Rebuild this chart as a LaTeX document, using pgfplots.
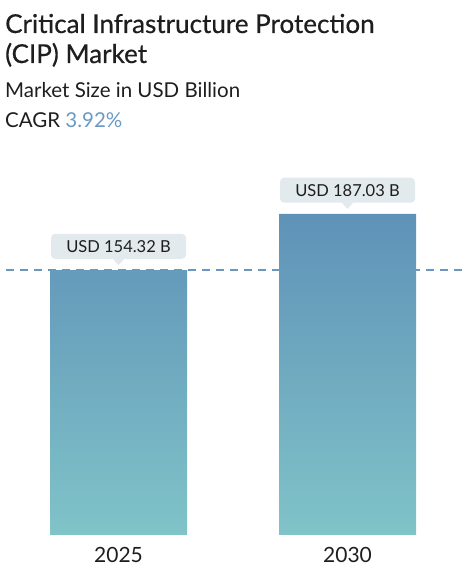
\documentclass[border=0pt]{standalone}
\usepackage{pgfplots}
\pgfplotsset{compat=1.18}
\usepackage{fontspec}
\setmainfont{Lato}
\definecolor{bartop}{HTML}{5F92B8}
\definecolor{barbot}{HTML}{80C3C8}
\definecolor{dashcol}{HTML}{6A97C2}
\definecolor{boxcol}{HTML}{E2EAED}
\definecolor{txt}{HTML}{1E1E1E}
\definecolor{cagr}{HTML}{6A9AC4}
\begin{document}
\begin{tikzpicture}[x=1pt,y=1pt]
\path[use as bounding box] (0,0) rectangle (468,576);
% titles
\node[anchor=base west, inner sep=0, text=txt, font=\fontsize{26}{30}\selectfont\addfontfeature{FakeBold=0.5}] at (5,543) {Critical Infrastructure Protection};
\node[anchor=base west, inner sep=0, text=txt, font=\fontsize{26}{30}\selectfont\addfontfeature{FakeBold=0.5}] at (5,513) {(CIP) Market};
\node[anchor=base west, inner sep=0, text=txt, font=\fontsize{20.5}{24}\selectfont] at (5,478) {Market Size in USD Billion};
\node[anchor=base west, inner sep=0, text=txt, font=\fontsize{20.5}{24}\selectfont] at (5,448) {CAGR \textcolor{cagr}{3.92\%}};
\begin{axis}[
    at={(4pt,41pt)}, anchor=south west,
    scale only axis,
    width=458pt, height=343.4pt,
    xmin=-0.5, xmax=1.5,
    ymin=0, ymax=200,
    clip=false,
    axis line style={draw=none},
    major tick length=0pt,
    xtick={0,1},
    xticklabels={2025,2030},
    ytick=\empty,
    x tick label style={font=\fontsize{21}{24}\selectfont, text=txt, yshift=-9pt},
]
\addplot[dashcol, line width=1.2pt, dash pattern=on 8pt off 6pt, forget plot]
    coordinates {(-0.493,154.32) (1.513,154.32)};
\addplot[ybar, bar width=137pt, draw=none, top color=bartop, bottom color=barbot]
    coordinates {(0,154.32) (1,187.03)};
% value callouts
\node[anchor=south, fill=boxcol, rounded corners=4pt, minimum width=135pt, minimum height=25pt, inner sep=0, text=txt, font=\fontsize{16.5}{18}\selectfont, yshift=11pt] at (axis cs:0,154.32) {USD 154.32 B};
\fill[boxcol] ([xshift=-6pt,yshift=11.5pt]axis cs:0,154.32) -- ([yshift=5pt]axis cs:0,154.32) -- ([xshift=6pt,yshift=11.5pt]axis cs:0,154.32) -- cycle;
\node[anchor=south, fill=boxcol, rounded corners=4pt, minimum width=135pt, minimum height=25pt, inner sep=0, text=txt, font=\fontsize{16.5}{18}\selectfont, yshift=11pt] at (axis cs:1,187.03) {USD 187.03 B};
\fill[boxcol] ([xshift=-6pt,yshift=11.5pt]axis cs:1,187.03) -- ([yshift=5pt]axis cs:1,187.03) -- ([xshift=6pt,yshift=11.5pt]axis cs:1,187.03) -- cycle;
\end{axis}
\end{tikzpicture}
\end{document}
